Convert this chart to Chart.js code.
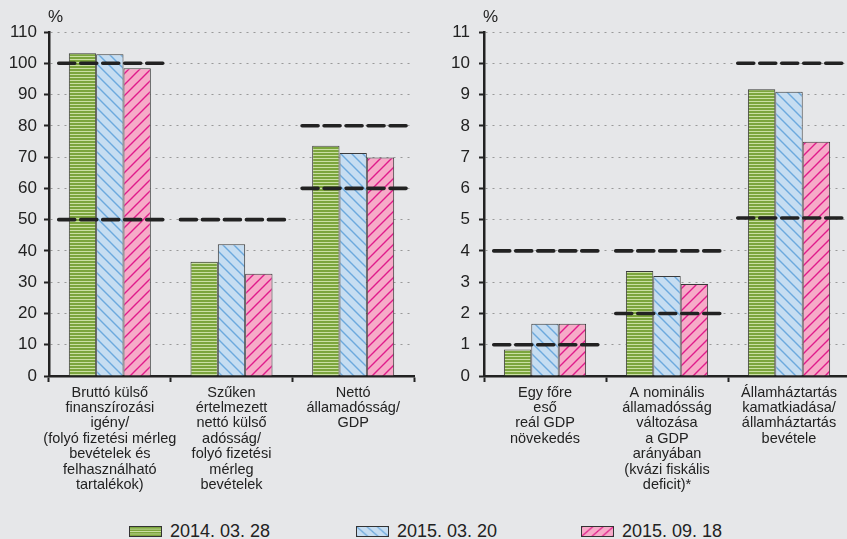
<!DOCTYPE html>
<html>
<head>
<meta charset="utf-8">
<script src="https://cdn.jsdelivr.net/npm/chart.js@4"></script>
<style>
  html, body { margin: 0; padding: 0; }
  body { width: 847px; height: 539px; overflow: hidden; position: relative; background: #e6e7e9; font-family: "Liberation Sans", Arial, sans-serif; color: #222; }
  canvas { position: absolute; top: 0; }
  .unit { position: absolute; top: 8px; font-size: 17px; line-height: 17px; }
  .legend-item { position: absolute; top: 521px; height: 20px; display: flex; align-items: center; font-size: 18px; white-space: nowrap; }
  .legend-item canvas { position: static; width: 33px; height: 11px; margin-right: 8px; box-sizing: border-box; border: 1px solid #333; }
</style>
</head>
<body>
<canvas id="leftChart" width="420" height="500" style="left:0"></canvas>
<canvas id="rightChart" width="430" height="500" style="left:420px"></canvas>
<div class="unit" style="left:48px">%</div>
<div class="unit" style="left:483px">%</div>
<div class="legend-item" style="left:129px"><canvas id="sw0" width="33" height="11"></canvas><span id="lg0"></span></div>
<div class="legend-item" style="left:356px"><canvas id="sw1" width="33" height="11"></canvas><span id="lg1"></span></div>
<div class="legend-item" style="left:581px"><canvas id="sw2" width="33" height="11"></canvas><span id="lg2"></span></div>
<script>
// series names (dates)
const seriesNames = ['2014. 03. 28', '2015. 03. 20', '2015. 09. 18'];

// left panel
const leftCategories = [
  ['Bruttó külső', 'finanszírozási', 'igény/', '(folyó fizetési mérleg', 'bevételek és', 'felhasználható', 'tartalékok)'],
  ['Szűken', 'értelmezett', 'nettó külső', 'adósság/', 'folyó fizetési', 'mérleg', 'bevételek'],
  ['Nettó', 'államadósság/', 'GDP']
];
const left2014 = [103.2, 36.5, 73.6];
const left2015a = [102.9, 42.1, 71.3];
const left2015b = [98.4, 32.7, 69.9];
const leftUpperLimits = [100, 50, 80];
const leftLowerLimits = [50, null, 60];
const leftMax = 110;
const leftStep = 10;

// right panel
const rightCategories = [
  ['Egy főre', 'eső', 'reál GDP', 'növekedés'],
  ['A nominális', 'államadósság', 'változása', 'a GDP', 'arányában', '(kvázi fiskális', 'deficit)*'],
  ['Államháztartás', 'kamatkiadása/', 'államháztartás', 'bevétele']
];
const right2014 = [0.85, 3.36, 9.17];
const right2015a = [1.67, 3.2, 9.09];
const right2015b = [1.67, 2.94, 7.49];
const rightUpperLimits = [4, 4, 10];
const rightLowerLimits = [1, 2, 5.05];
const rightMax = 11;
const rightStep = 1;

const textColor = '#222';
const axisColor = '#222';

function makePattern(kind) {
  const c = document.createElement('canvas');
  const ctx = c.getContext('2d');
  if (kind === 'stripes') {
    c.width = 4; c.height = 3;
    ctx.fillStyle = '#7ca53d';
    ctx.fillRect(0, 0, 4, 3);
    ctx.fillStyle = '#cadfa3';
    ctx.fillRect(0, 2, 4, 1);
    return ctx.createPattern(c, 'repeat');
  }
  const s = 11;
  c.width = s; c.height = s;
  ctx.fillStyle = kind === 'back' ? '#c6ddf1' : '#f6abc8';
  ctx.fillRect(0, 0, s, s);
  ctx.strokeStyle = kind === 'back' ? '#6ca9dd' : '#e01b8b';
  ctx.lineWidth = 1.4;
  ctx.beginPath();
  if (kind === 'back') {
    ctx.moveTo(-1, -1); ctx.lineTo(s + 1, s + 1);
    ctx.moveTo(-2, s - 2); ctx.lineTo(2, s + 2);
    ctx.moveTo(s - 2, -2); ctx.lineTo(s + 2, 2);
  } else {
    ctx.moveTo(-1, s + 1); ctx.lineTo(s + 1, -1);
    ctx.moveTo(-2, 2); ctx.lineTo(2, -2);
    ctx.moveTo(s - 2, s + 2); ctx.lineTo(s + 2, s - 2);
  }
  ctx.stroke();
  return ctx.createPattern(c, 'repeat');
}

const fills = [makePattern('stripes'), makePattern('back'), makePattern('fwd')];

// thick dashed limit lines over each category group
const limitLines = {
  id: 'limitLines',
  afterDatasetsDraw(chart, args, opts) {
    const { ctx, chartArea } = chart;
    const x = chart.scales.x, y = chart.scales.y;
    const cw = x.getPixelForValue(1) - x.getPixelForValue(0);
    ctx.save();
    ctx.strokeStyle = '#222';
    ctx.lineWidth = 3.6;
    ctx.lineCap = 'round';
    ctx.setLineDash([16, 6]);
    [opts.upper, opts.lower].forEach(list => {
      list.forEach((v, i) => {
        if (v === null) return;
        const xc = x.getPixelForValue(i);
        const x0 = Math.max(chartArea.left + 2, xc - 0.42 * cw);
        const x1 = Math.min(chart.width, xc + 0.46 * cw);
        const yy = y.getPixelForValue(v);
        ctx.beginPath();
        ctx.moveTo(x0, yy);
        ctx.lineTo(x1, yy);
        ctx.stroke();
      });
    });
    ctx.restore();
  }
};

function buildChart(id, categories, series, upper, lower, max, step, axisWidth, labelPad, padRight) {
  const ctx = document.getElementById(id).getContext('2d');
  return new Chart(ctx, {
    type: 'bar',
    data: {
      labels: categories,
      datasets: series.map((vals, k) => ({
        label: seriesNames[k],
        data: vals,
        backgroundColor: fills[k],
        borderColor: '#3a3a3a',
        borderWidth: 1,
        categoryPercentage: 0.674,
        barPercentage: 1
      }))
    },
    options: {
      responsive: false,
      animation: false,
      devicePixelRatio: 1,
      layout: { padding: { top: 32, right: padRight, left: 0, bottom: 0 } },
      plugins: {
        legend: { display: false },
        tooltip: { enabled: false },
        limitLines: { upper: upper, lower: lower }
      },
      scales: {
        x: {
          offset: true,
          grid: {
            offset: true,
            drawOnChartArea: false,
            drawTicks: true,
            tickLength: 6,
            tickColor: axisColor,
            tickWidth: 2
          },
          border: { color: axisColor, width: 2.5 },
          ticks: {
            color: textColor,
            font: { family: 'Liberation Sans', size: 14.5, lineHeight: 1.06 },
            padding: 3,
            maxRotation: 0,
            autoSkip: false
          },
          afterFit(scale) { scale.height = 124; }
        },
        y: {
          min: 0,
          max: max,
          grid: {
            color: '#999',
            lineWidth: 1,
            tickLength: 5,
            tickColor: axisColor,
            tickWidth: 2,
            tickBorderDash: [1, 0]
          },
          border: { color: axisColor, width: 2.5, dash: [2, 5] },
          ticks: {
            stepSize: step,
            color: textColor,
            font: { family: 'Liberation Sans', size: 17 },
            padding: labelPad
          },
          afterFit(scale) { scale.width = axisWidth; }
        }
      }
    },
    plugins: [limitLines]
  });
}

buildChart('leftChart', leftCategories, [left2014, left2015a, left2015b],
  leftUpperLimits, leftLowerLimits, leftMax, leftStep, 49, 7, 6);
buildChart('rightChart', rightCategories, [right2014, right2015a, right2015b],
  rightUpperLimits, rightLowerLimits, rightMax, rightStep, 64, 9, 0);

// legend swatches
seriesNames.forEach((name, k) => {
  const sw = document.getElementById('sw' + k).getContext('2d');
  sw.fillStyle = fills[k];
  sw.fillRect(0, 0, 33, 11);
  document.getElementById('lg' + k).textContent = name;
});
</script>
</body>
</html>
